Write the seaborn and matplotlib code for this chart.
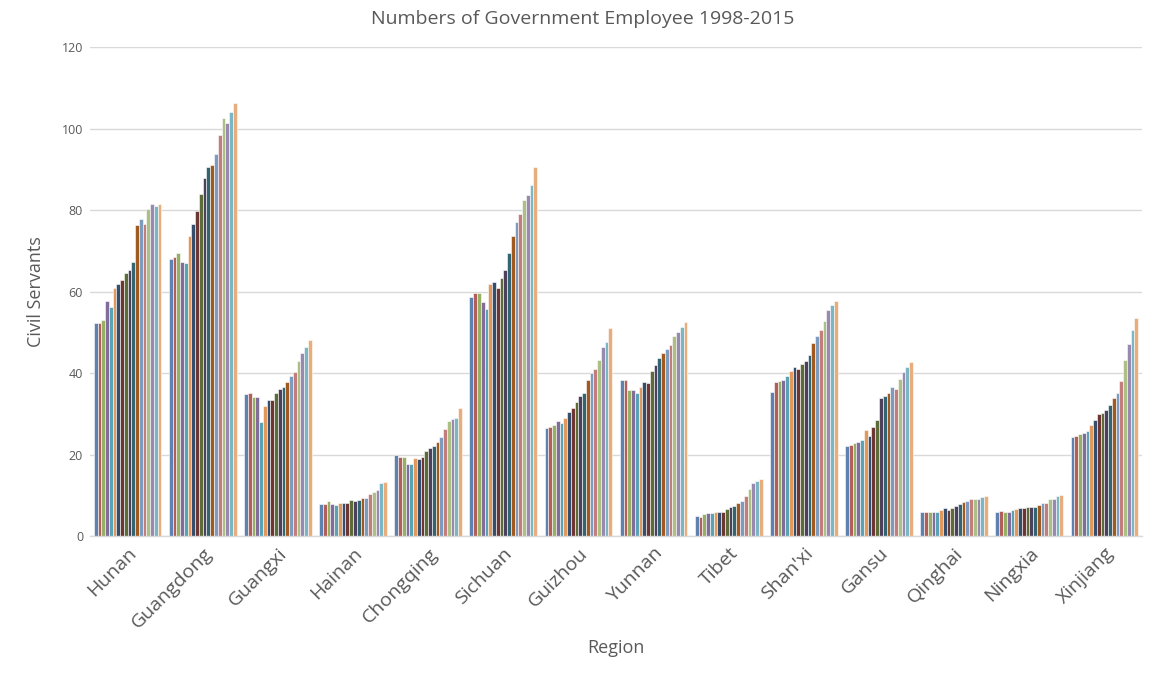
import matplotlib
matplotlib.use("Agg")
import matplotlib.pyplot as plt
import seaborn as sns
import pandas as pd

regions = ["Hunan", "Guangdong", "Guangxi", "Hainan", "Chongqing", "Sichuan", "Guizhou",
           "Yunnan", "Tibet", "Shan'xi", "Gansu", "Qinghai", "Ningxia", "Xinjiang"]
years = [str(y) for y in range(1998, 2016)]

hunan = [52.3, 52.3, 53.0, 57.7, 56.3, 60.8, 61.8, 62.8, 64.5, 65.3, 67.2, 76.3, 77.8, 76.5, 80.4, 81.5, 81.1, 81.6]
guangdong = [67.9, 68.5, 69.4, 67.2, 66.9, 73.6, 76.5, 79.8, 83.9, 87.9, 90.5, 91.0, 93.9, 98.5, 102.7, 101.4, 104.0, 106.3]
guangxi = [34.8, 35.1, 34.1, 34.1, 28.1, 32.0, 33.3, 33.5, 35.1, 36.1, 36.6, 37.7, 39.3, 40.2, 42.9, 44.9, 46.3, 48.1]
hainan = [7.9, 7.9, 8.6, 7.8, 7.5, 8.1, 8.1, 8.1, 8.8, 8.6, 8.9, 9.4, 9.4, 10.4, 10.7, 11.3, 13.0, 13.3]
chongqing = [19.8, 19.5, 19.5, 17.6, 17.6, 19.2, 19.0, 19.5, 20.9, 21.5, 22.2, 23.1, 24.4, 26.3, 28.3, 28.7, 28.9, 31.4]
sichuan = [58.7, 59.6, 59.6, 57.4, 55.7, 61.8, 62.4, 60.8, 63.4, 65.3, 69.4, 73.6, 77.2, 79.0, 82.5, 83.7, 86.1, 90.5]
guizhou = [26.6, 26.8, 27.3, 28.3, 27.8, 28.9, 30.4, 31.5, 32.8, 34.4, 35.0, 38.2, 39.9, 41.1, 43.1, 46.3, 47.6, 51.0]
yunnan = [38.2, 38.2, 35.9, 35.9, 35.2, 36.6, 37.7, 37.5, 40.6, 41.9, 43.7, 45.0, 45.8, 46.8, 49.1, 50.0, 51.2, 52.5]
tibet = [4.9, 4.7, 5.4, 5.6, 5.6, 5.9, 6.0, 6.0, 6.7, 7.2, 7.4, 8.0, 8.5, 9.8, 11.5, 12.9, 13.6, 14.1]
shanxi = [35.3, 37.7, 38.0, 38.2, 39.2, 40.6, 41.5, 41.1, 42.3, 42.9, 44.4, 47.3, 49.1, 50.5, 52.9, 55.4, 56.6, 57.7]
gansu = [22.1, 22.3, 22.8, 23.1, 23.6, 26.0, 24.5, 26.7, 28.4, 34.0, 34.3, 35.1, 36.6, 36.1, 38.5, 40.3, 41.6, 42.6]
qinghai = [6.0, 6.0, 6.0, 6.0, 6.0, 6.5, 6.8, 6.5, 7.0, 7.3, 7.8, 8.3, 8.7, 9.1, 9.1, 9.1, 9.6, 9.8]
ningxia = [6.0, 6.2, 6.0, 6.0, 6.3, 6.7, 6.8, 7.0, 7.2, 7.2, 7.2, 7.5, 8.0, 8.0, 9.1, 9.1, 9.8, 10.1]
xinjiang = [24.3, 24.5, 25.0, 25.4, 25.9, 27.2, 28.6, 29.9, 30.3, 30.9, 32.2, 33.8, 35.0, 38.0, 43.2, 47.2, 50.5, 53.5]

series = [hunan, guangdong, guangxi, hainan, chongqing, sichuan, guizhou,
          yunnan, tibet, shanxi, gansu, qinghai, ningxia, xinjiang]

# Office-style palette: six base colours, then their darker and lighter variants
palette = ["#4F81BD", "#C0504D", "#9BBB59", "#8064A2", "#4BACC6", "#F79646",
           "#2C4D75", "#772C2A", "#5F7530", "#4D3B62", "#276A7C", "#B65708",
           "#729ACA", "#CD7371", "#AFC97A", "#9983B5", "#6FBDD1", "#F9AB6B"]

rows = []
for region, vals in zip(regions, series):
    for year, v in zip(years, vals):
        rows.append({"Region": region, "Year": year, "Civil Servants": v})
df = pd.DataFrame(rows)

sns.set_theme(style="white")
plt.rcParams["font.family"] = ["Open Sans", "DejaVu Sans"]

text_color = "#595959"
grid_color = "#D9D9D9"

fig = plt.figure(figsize=(11.54, 6.74), dpi=100)
ax = fig.add_axes([0.078, 0.2047, 0.9116, 0.7253])

sns.barplot(data=df, x="Region", y="Civil Servants", hue="Year", order=regions,
            hue_order=years, palette=palette, width=0.9, ax=ax,
            edgecolor="white", linewidth=0.4, legend=False)

ax.set_ylim(0, 120)
ax.set_yticks(range(0, 121, 20))
ax.set_xlim(-0.5, len(regions) - 0.5)
ax.yaxis.grid(True, color=grid_color, linewidth=1)
ax.set_axisbelow(True)
for side in ["top", "right", "left"]:
    ax.spines[side].set_visible(False)
ax.spines["bottom"].set_color(grid_color)
ax.spines["bottom"].set_linewidth(1)
ax.tick_params(axis="both", length=0)
ax.tick_params(axis="y", labelsize=9, labelcolor=text_color, pad=5)

ax.set_xticks(range(len(regions)))
ax.set_xticklabels(regions, rotation=45, ha="right", rotation_mode="anchor",
                   fontsize=14, color=text_color)
ax.tick_params(axis="x", pad=6)

fig.text(0.505, 0.972, "Numbers of Government Employee 1998-2015", fontsize=14,
         color=text_color, ha="center", va="center")
ax.set_ylabel("Civil Servants", fontsize=13, color=text_color, labelpad=12)
ax.set_xlabel("Region", fontsize=13, color=text_color, labelpad=5)

fig.savefig("out.png", dpi=100, facecolor="white")
